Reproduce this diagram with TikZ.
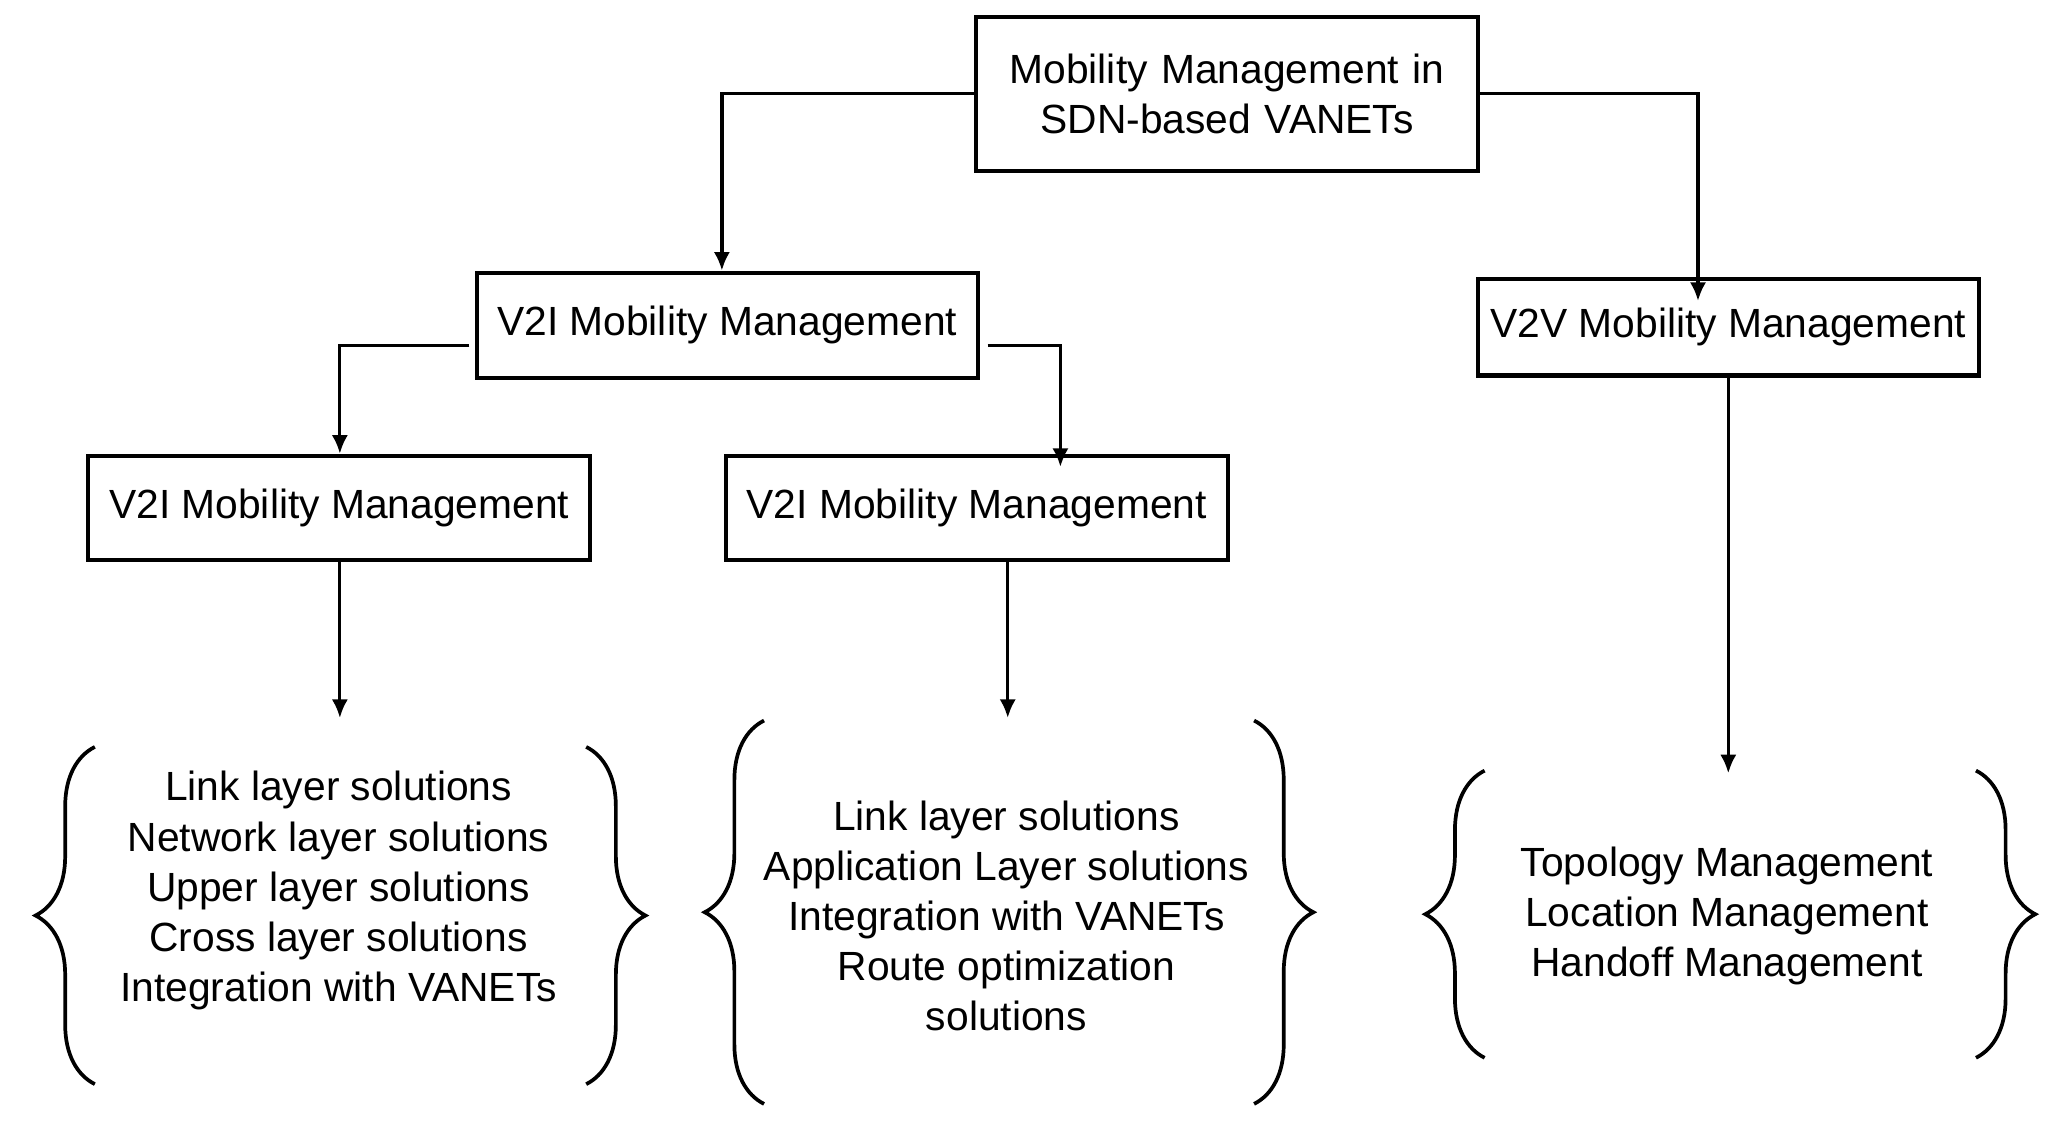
\documentclass[tikz,border=0pt]{standalone}
\usepackage{fontspec}
\setmainfont{Liberation Sans}
\usetikzlibrary{decorations.pathreplacing,arrows.meta}
\begin{document}
\begin{tikzpicture}[x=0.01cm,y=-0.01cm,
  box/.style={draw,line width=0.9pt,inner sep=0pt,font=\fontsize{8.8}{10.8}\selectfont},
  arr/.style={draw,line width=0.7pt,-{Latex[length=4pt,width=3.5pt]}},
  br/.style={decorate,decoration={brace,amplitude=0.45cm,aspect=0.5},line width=0.8pt},
  lst/.style={align=center,font=\fontsize{8.8}{10.8}\selectfont,inner sep=0pt}]
\useasboundingbox[fill=white] (0,0) rectangle (1560,855);
\node[box,minimum width=381\pgflinewidth,align=center,text width=3.6cm,minimum width=3.81cm,minimum height=1.17cm] (top) at (931.5,71.5) {Mobility Management in\\SDN-based VANETs};
\node[box,minimum width=3.8cm,minimum height=0.8cm] (v2i) at (552,247) {V2I Mobility Management};
\node[box,minimum width=3.8cm,minimum height=0.73cm] (v2v) at (1312,248.5) {V2V Mobility Management};
\node[box,minimum width=3.81cm,minimum height=0.79cm] (l) at (257.5,385.5) {V2I Mobility Management};
\node[box,minimum width=3.81cm,minimum height=0.79cm] (m) at (741.5,385.5) {V2I Mobility Management};
\coordinate (c1) at (548,71);\coordinate (c2) at (1289,71);
\coordinate (c3) at (258,262);\coordinate (c4) at (805,262);
\coordinate (e1) at (258,545);\coordinate (e2) at (765,545);\coordinate (e3) at (1312,587);
\draw[arr] (top.west|-c1) -- (c1) -- (c1|-v2i.north);
\draw[arr] (top.east|-c2) -- (c2) -- ([yshift=-0.18cm]c2|-v2v.north);
\draw[arr] ([xshift=-0.04cm]v2i.west|-c3) -- (c3) -- (c3|-l.north);
\draw[arr] ([xshift=0.06cm]v2i.east|-c4) -- (c4) -- ([yshift=-0.1cm]c4|-m.north);
\draw[arr] (l.south-|e1) -- (e1);
\draw[arr] (m.south-|e2) -- (e2);
\draw[arr] (v2v.south-|e3) -- (e3);
\node[lst] (g1) at (257,676) {Link layer solutions\\Network layer solutions\\Upper layer solutions\\Cross layer solutions\\Integration with VANETs};
\node[lst] (g2) at (764,695) {Link layer solutions\\Application Layer solutions\\Integration with VANETs\\Route optimization\\solutions};
\node[lst] (g3) at (1311,695) {Topology Management\\Location Management\\Handoff Management};
\draw[br] (72,823) -- (72,567);
\draw[br] (445,567) -- (445,823);
\draw[br] (580,838) -- (580,547);
\draw[br] (952,547) -- (952,838);
\draw[br] (1127,803) -- (1127,585);
\draw[br] (1500,585) -- (1500,803);
\end{tikzpicture}
\end{document}
